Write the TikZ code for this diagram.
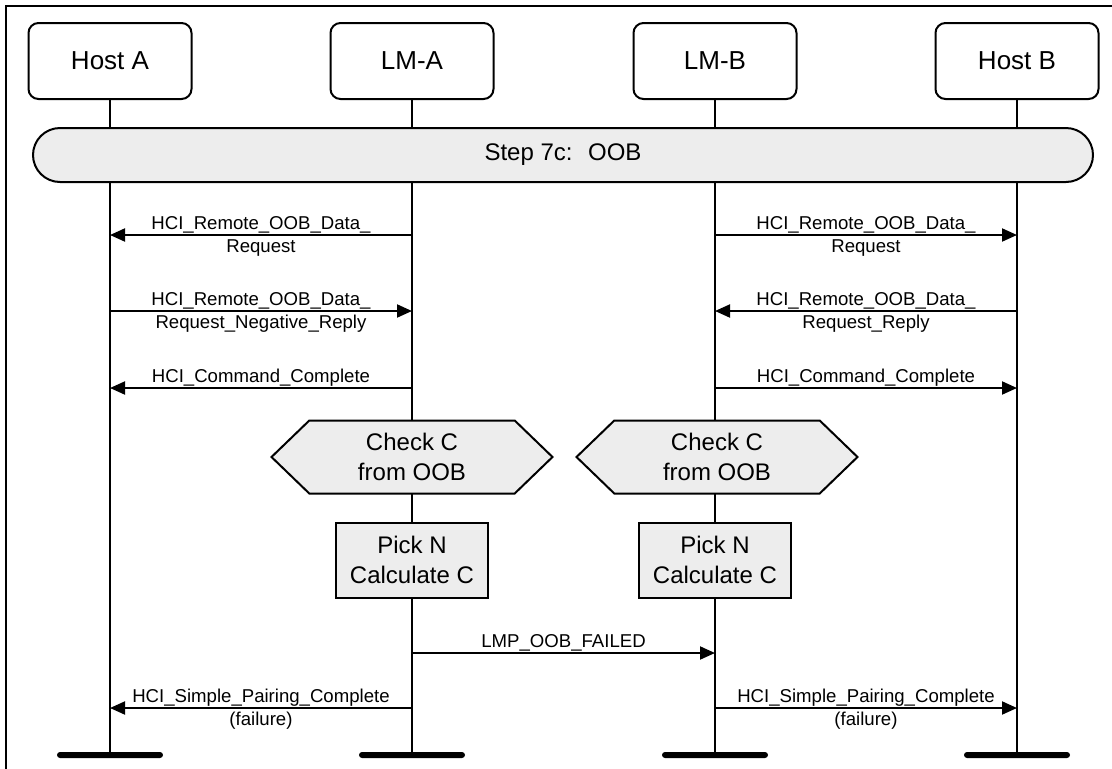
\documentclass[tikz,border=0pt]{standalone}
\usepackage{fontspec}
\setmainfont{Liberation Sans}
\usetikzlibrary{arrows.meta,shapes.symbols}
\definecolor{boxgray}{HTML}{EDEDED}
\begin{document}
\begin{tikzpicture}[x=1pt,y=-1pt,
  every node/.style={inner sep=0pt},
  hdr/.style={draw,line width=2pt,rounded corners=10pt,minimum width=163pt,minimum height=76pt,fill=white,font=\fontsize{26}{30}\selectfont},
  stepbar/.style={draw,line width=2pt,rounded corners=27pt,minimum width=1060pt,minimum height=54pt,fill=boxgray,font=\fontsize{24}{30}\selectfont},
  hexa/.style={signal,signal to=west and east,signal pointer angle=88,draw,line width=2pt,fill=boxgray,minimum width=281pt,minimum height=73pt,align=center,font=\fontsize{24}{30}\selectfont},
  proc/.style={draw,line width=2pt,fill=boxgray,minimum width=152pt,minimum height=75pt,align=center,font=\fontsize{24}{30}\selectfont},
  life/.style={line width=2pt},
  msg/.style={line width=2pt,-{Triangle[length=15pt,width=13pt]}},
  lbl/.style={font=\fontsize{18.6}{22}\selectfont,midway,anchor=base},
  endbar/.style={fill=black,rounded corners=3pt,minimum width=106pt,minimum height=6pt}
]
\useasboundingbox (0,0) rectangle (1112,769);
% outer frame (cropped at right and bottom)
\draw[line width=2pt] (6,769) -- (6,6) -- (1112,6);

% header boxes
\node[hdr] (hA) at (110,61) {Host A};
\node[hdr] (lA) at (412,61) {LM-A};
\node[hdr] (lB) at (715,61) {LM-B};
\node[hdr] (hB) at (1017,61) {Host B};

% bottom bars
\node[endbar] (ehA) at (110,755) {};
\node[endbar] (elA) at (412,755) {};
\node[endbar] (elB) at (715,755) {};
\node[endbar] (ehB) at (1017,755) {};

% lifelines
\draw[life] (hA.south) -- (ehA.center);
\draw[life] (lA.south) -- (elA.center);
\draw[life] (lB.south) -- (elB.center);
\draw[life] (hB.south) -- (ehB.center);

% step bar
\node[stepbar] (step) at (563,155) {Step 7c:~ OOB};

% hexagons and process boxes
\node[hexa] (chkA) at (412,457) {Check C\\from OOB};
\node[hexa] (chkB) at (717,457) {Check C\\from OOB};
\node[proc] (pickA) at (412,560) {Pick N\\Calculate C};
\node[proc] (pickB) at (715,560) {Pick N\\Calculate C};

% message anchor points on lifelines
\foreach \n/\x in {hA/110,lA/412,lB/715,hB/1017}
  \foreach \k/\y in {1/235,2/311,3/388,4/653,5/708}
    \coordinate (\n\k) at (\x,\y);

% messages left side
\draw[msg] (lA1) -- (hA1)
  node[lbl,yshift=6pt]{HCI\_Remote\_OOB\_Data\_}
  node[lbl,yshift=-17.5pt]{Request};
\draw[msg] (hA2) -- (lA2)
  node[lbl,yshift=6pt]{HCI\_Remote\_OOB\_Data\_}
  node[lbl,yshift=-17.5pt]{Request\_Negative\_Reply};
\draw[msg] (lA3) -- (hA3)
  node[lbl,yshift=6pt]{HCI\_Command\_Complete};

% messages right side
\draw[msg] (lB1) -- (hB1)
  node[lbl,yshift=6pt]{HCI\_Remote\_OOB\_Data\_}
  node[lbl,yshift=-17.5pt]{Request};
\draw[msg] (hB2) -- (lB2)
  node[lbl,yshift=6pt]{HCI\_Remote\_OOB\_Data\_}
  node[lbl,yshift=-17.5pt]{Request\_Reply};
\draw[msg] (lB3) -- (hB3)
  node[lbl,yshift=6pt]{HCI\_Command\_Complete};

% LMP
\draw[msg] (lA4) -- (lB4)
  node[lbl,yshift=6pt]{LMP\_OOB\_FAILED};

% simple pairing complete
\draw[msg] (lA5) -- (hA5)
  node[lbl,yshift=6pt]{HCI\_Simple\_Pairing\_Complete}
  node[lbl,yshift=-17.5pt]{(failure)};
\draw[msg] (lB5) -- (hB5)
  node[lbl,yshift=6pt]{HCI\_Simple\_Pairing\_Complete}
  node[lbl,yshift=-17.5pt]{(failure)};
\end{tikzpicture}
\end{document}
